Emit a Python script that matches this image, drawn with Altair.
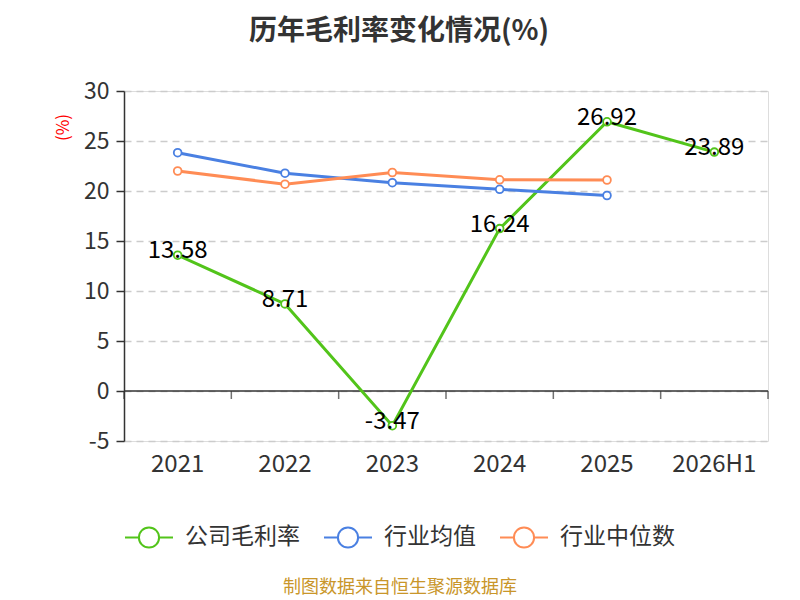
import altair as alt
import pandas as pd

years = ["2021", "2022", "2023", "2024", "2025", "2026H1"]
company = [13.58, 8.71, -3.47, 16.24, 26.92, 23.89]
ind_mean = [23.83, 21.78, 20.83, 20.17, 19.55]
ind_median = [22.0, 20.68, 21.85, 21.12, 21.1]
series_names = ["公司毛利率", "行业均值", "行业中位数"]
colors = ["#52c41a", "#4a80e2", "#ff8c55"]

rows = []
for y, v in zip(years, company):
    rows.append({"year": y, "value": v, "series": series_names[0]})
for y, v in zip(years, ind_mean):
    rows.append({"year": y, "value": v, "series": series_names[1]})
for y, v in zip(years, ind_median):
    rows.append({"year": y, "value": v, "series": series_names[2]})
df = pd.DataFrame(rows)
comp_df = df[df["series"] == series_names[0]].copy()
comp_df["label"] = [f"{v:.2f}" for v in comp_df["value"]]
years_df = pd.DataFrame({"year": years})
last_df = pd.DataFrame({"year": [years[-1]]})

FONT = "Noto Sans CJK SC"

xscale = alt.Scale(domain=years, paddingInner=0, paddingOuter=0)
yscale = alt.Scale(domain=[-5, 30], nice=False, zero=False)

x_enc = alt.X("year:N", scale=xscale, sort=years,
              axis=alt.Axis(title=None, domain=False, ticks=False, labelAngle=0,
                            labelFontSize=24, labelColor="#333", labelPadding=11,
                            labelFont=FONT))
y_enc = alt.Y("value:Q", scale=yscale,
              axis=alt.Axis(title="(%)", titleColor="red", titleFontSize=17,
                            titleFontWeight="normal", titleFont=FONT,
                            titleX=-61, titleY=36, titleAlign="center",
                            titleBaseline="middle", titleAngle=270,
                            values=[-5, 0, 5, 10, 15, 20, 25, 30],
                            labelExpr="'' + datum.value",
                            labelFontSize=23, labelColor="#333", labelFont=FONT,
                            labelPadding=7, tickSize=8, tickColor="#333",
                            tickWidth=1.5, domainColor="#333", domainWidth=1.5,
                            grid=True, gridColor="#cccccc", gridDash=[7, 5],
                            gridWidth=1.5))

color_enc = alt.Color("series:N",
                      scale=alt.Scale(domain=series_names, range=colors),
                      sort=series_names,
                      legend=alt.Legend(title=None, orient="bottom",
                                        direction="horizontal",
                                        symbolType="M-1,0L-0.42,0M0.42,0L1,0M0.42,0A0.42,0.42,0,1,1,-0.42,0A0.42,0.42,0,1,1,0.42,0",
                                        symbolSize=2304, symbolStrokeWidth=2,
                                        symbolFillColor="white",
                                        labelFontSize=23, labelColor="#333",
                                        labelFont=FONT, labelOffset=11,
                                        columnPadding=20, offset=36))

lines = alt.Chart(df).mark_line(strokeWidth=3).encode(
    x=x_enc, y=y_enc, color=color_enc)

points = alt.Chart(df).mark_point(filled=True, fill="white", size=60,
                                  strokeWidth=1.8, opacity=1).encode(
    x=alt.X("year:N", scale=xscale, sort=years),
    y=alt.Y("value:Q", scale=yscale),
    stroke=alt.Stroke("series:N", scale=alt.Scale(domain=series_names, range=colors),
                      legend=None))

labels = alt.Chart(comp_df).mark_text(fontSize=24, color="black", dy=-4,
                                      baseline="middle", font=FONT).encode(
    x=alt.X("year:N", scale=xscale, sort=years),
    y=alt.Y("value:Q", scale=yscale),
    text=alt.Text("label:N"))

zero_rule = alt.Chart(pd.DataFrame({"v": [0]})).mark_rule(
    color="#333", strokeWidth=1.5).encode(
    y=alt.Y("v:Q", scale=yscale), x=alt.value(0), x2=alt.value(644))

ticks = alt.Chart(years_df).mark_tick(orient="vertical", size=8, thickness=1.5,
                                      color="#333", yOffset=4).encode(
    x=alt.X("year:N", scale=xscale, sort=years, bandPosition=0),
    y=alt.Y(datum=0, scale=yscale))

end_tick = alt.Chart(last_df).mark_tick(orient="vertical", size=8, thickness=1.5,
                                        color="#333", yOffset=4).encode(
    x=alt.X("year:N", scale=xscale, sort=years, bandPosition=1),
    y=alt.Y(datum=0, scale=yscale))

source = alt.Chart(pd.DataFrame({"t": ["制图数据来自恒生聚源数据库"]})).mark_text(
    fontSize=18, color="#c9962a", font=FONT, baseline="middle").encode(
    text="t:N", x=alt.value(276), y=alt.value(497))

chart = alt.layer(zero_rule, lines, points, labels, ticks, end_tick, source).properties(
    width=644, height=350,
    title=alt.TitleParams("历年毛利率变化情况(%)", fontSize=28, fontWeight="bold",
                          color="#333", font=FONT, anchor="middle", dx=-47,
                          offset=34),
    autosize=alt.AutoSizeParams(type="none"),
    padding={"left": 116, "top": 83, "right": 16, "bottom": 160},
).configure_view(stroke=None).configure(background="white")

chart.save("out.html", embed_options={"renderer": "svg", "actions": False})
